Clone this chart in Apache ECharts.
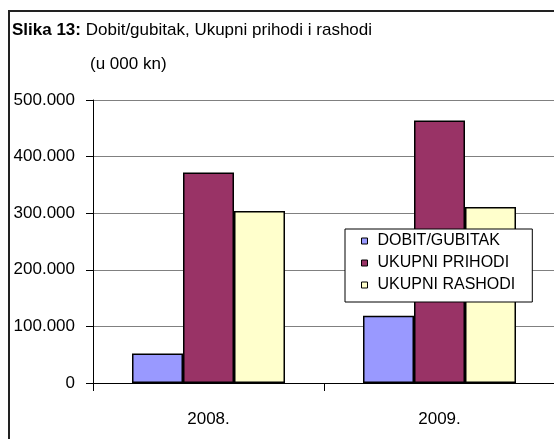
<!DOCTYPE html>
<html>
<head>
<meta charset="utf-8">
<script src="https://cdn.jsdelivr.net/npm/echarts@6/dist/echarts.min.js"></script>
<style>
  html, body { margin: 0; padding: 0; background: #fff; }
  #chart { width: 554px; height: 439px; }
</style>
</head>
<body>
<div id="chart"></div>
<script>
// godine i iznosi (u kn, os prikazuje u 000)
const years = ['2008.', '2009.'];
const dobitGubitak = [52000, 119000];
const ukupniPrihodi = [372000, 464000];
const ukupniRashodi = [304000, 311000];
const yTicks = [0, 100000, 200000, 300000, 400000, 500000];

const fontFamily = '"Liberation Sans", Arial, sans-serif';

const myChart = echarts.init(document.getElementById('chart'));

// tocka kao separator tisucica: 500000 -> 500.000
const fmt = v => (v === 0 ? '0' : (v / 1000) + '.000');

const barStyle = color => ({
  color: color,
  borderColor: '#000',
  borderWidth: 1.5
});

myChart.setOption({
  backgroundColor: '#fff',
  animation: false,
  textStyle: { fontFamily: fontFamily },
  graphic: [
    {
      type: 'rect',
      shape: { x: 9, y: 11, width: 700, height: 600 },
      style: { fill: 'none', stroke: '#222', lineWidth: 2 },
      silent: true
    }
  ],
  title: [
    {
      text: '{b|Slika 13:} Dobit/gubitak, Ukupni prihodi i rashodi',
      left: 12,
      top: 22,
      padding: 0,
      textStyle: {
        fontFamily: fontFamily,
        fontSize: 17,
        fontWeight: 'normal',
        color: '#000',
        rich: {
          b: { fontFamily: fontFamily, fontSize: 17, fontWeight: 'bold', color: '#000' }
        }
      }
    },
    {
      text: '(u 000 kn)',
      left: 90,
      top: 56,
      padding: 0,
      textStyle: { fontFamily: fontFamily, fontSize: 17, fontWeight: 'normal', color: '#000' }
    }
  ],
  legend: {
    orient: 'vertical',
    left: 345,
    top: 229,
    padding: [4, 17, 9, 16],
    itemWidth: 6,
    itemHeight: 6,
    itemGap: 6,
    icon: 'rect',
    backgroundColor: '#fff',
    borderColor: '#000',
    borderWidth: 1,
    borderRadius: 0,
    itemStyle: { borderColor: '#000', borderWidth: 1 },
    textStyle: {
      fontFamily: fontFamily,
      fontSize: 16,
      lineHeight: 16,
      color: '#000',
      padding: [0, 0, 0, 5]
    },
    data: ['DOBIT/GUBITAK', 'UKUPNI PRIHODI', 'UKUPNI RASHODI']
  },
  grid: {
    left: 93,
    right: -1,
    top: 100,
    bottom: 56,
    outerBoundsMode: 'none'
  },
  xAxis: {
    type: 'category',
    data: years,
    axisLine: { lineStyle: { color: '#000', width: 1 } },
    axisTick: { show: true, length: 8, lineStyle: { color: '#000' } },
    axisLabel: { fontSize: 17, color: '#000', margin: 28, fontFamily: fontFamily },
    splitLine: { show: false }
  },
  yAxis: {
    type: 'value',
    min: 0,
    max: 500000,
    interval: 100000,
    axisLine: { show: true, lineStyle: { color: '#000', width: 1 } },
    axisTick: { show: true, inside: false, length: 7, lineStyle: { color: '#000' } },
    axisLabel: {
      fontSize: 17,
      color: '#000',
      margin: 18,
      fontFamily: fontFamily,
      formatter: v => (yTicks.indexOf(v) >= 0 ? fmt(v) : '')
    },
    splitLine: { show: true, lineStyle: { color: '#808080', width: 1 } }
  },
  series: [
    {
      name: 'DOBIT/GUBITAK',
      type: 'bar',
      data: dobitGubitak,
      barWidth: 51,
      barGap: '0%',
      itemStyle: barStyle('#9999ff')
    },
    {
      name: 'UKUPNI PRIHODI',
      type: 'bar',
      data: ukupniPrihodi,
      barWidth: 51,
      barGap: '0%',
      itemStyle: barStyle('#993366')
    },
    {
      name: 'UKUPNI RASHODI',
      type: 'bar',
      data: ukupniRashodi,
      barWidth: 51,
      barGap: '0%',
      itemStyle: barStyle('#ffffcc')
    }
  ]
});
</script>
</body>
</html>
